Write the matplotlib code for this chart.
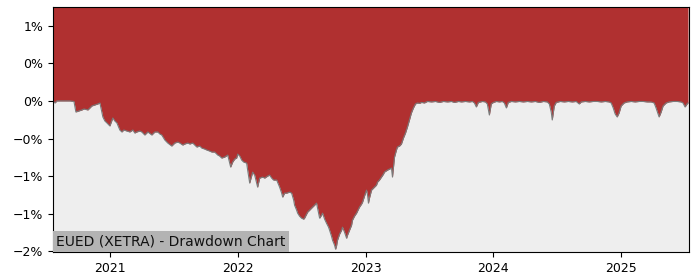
import matplotlib
matplotlib.use("Agg")
import matplotlib.pyplot as plt

# decimal years
years = [
    2020.555, 2020.570, 2020.586, 2020.641, 2020.688, 2020.719, 2020.734, 2020.758, 2020.781, 2020.797,
    2020.828, 2020.844, 2020.859, 2020.883, 2020.906, 2020.922, 2020.930, 2020.945, 2020.961, 2020.977,
    2021.000, 2021.023, 2021.039, 2021.055, 2021.078, 2021.094, 2021.109, 2021.133, 2021.156, 2021.180,
    2021.195, 2021.211, 2021.234, 2021.250, 2021.273, 2021.297, 2021.328, 2021.352, 2021.375, 2021.391,
    2021.406, 2021.430, 2021.453, 2021.484, 2021.508, 2021.531, 2021.547, 2021.570, 2021.586, 2021.609,
    2021.625, 2021.648, 2021.680, 2021.703, 2021.719, 2021.742, 2021.758, 2021.781, 2021.797, 2021.820,
    2021.844, 2021.859, 2021.875, 2021.898, 2021.922, 2021.945, 2021.961, 2021.977, 2021.992, 2022.000,
    2022.016, 2022.031, 2022.047, 2022.070, 2022.078, 2022.094, 2022.109, 2022.117, 2022.133, 2022.148,
    2022.156, 2022.172, 2022.195, 2022.211, 2022.234, 2022.250, 2022.266, 2022.281, 2022.305, 2022.328,
    2022.344, 2022.352, 2022.367, 2022.383, 2022.406, 2022.422, 2022.438, 2022.445, 2022.461, 2022.469,
    2022.484, 2022.500, 2022.516, 2022.523, 2022.539, 2022.547, 2022.563, 2022.578, 2022.594, 2022.602,
    2022.617, 2022.625, 2022.641, 2022.656, 2022.664, 2022.680, 2022.695, 2022.711, 2022.719, 2022.734,
    2022.742, 2022.758, 2022.766, 2022.773, 2022.781, 2022.797, 2022.813, 2022.820, 2022.836, 2022.852,
    2022.859, 2022.875, 2022.891, 2022.898, 2022.914, 2022.930, 2022.945, 2022.953, 2022.969, 2022.977,
    2022.992, 2023.008, 2023.016, 2023.023, 2023.031, 2023.047, 2023.070, 2023.086, 2023.094, 2023.109,
    2023.125, 2023.141, 2023.148, 2023.172, 2023.188, 2023.203, 2023.211, 2023.227, 2023.242, 2023.250,
    2023.266, 2023.281, 2023.297, 2023.313, 2023.328, 2023.344, 2023.359, 2023.375, 2023.391, 2023.406,
    2023.422, 2023.438, 2023.461, 2023.484, 2023.516, 2023.547, 2023.578, 2023.609, 2023.641, 2023.672,
    2023.695, 2023.727, 2023.750, 2023.781, 2023.813, 2023.836, 2023.852, 2023.867, 2023.883, 2023.914,
    2023.938, 2023.953, 2023.969, 2023.984, 2024.000, 2024.023, 2024.047, 2024.070, 2024.086, 2024.102,
    2024.117, 2024.141, 2024.172, 2024.203, 2024.234, 2024.266, 2024.297, 2024.328, 2024.359, 2024.391,
    2024.422, 2024.438, 2024.453, 2024.461, 2024.477, 2024.492, 2024.523, 2024.555, 2024.586, 2024.617,
    2024.648, 2024.672, 2024.688, 2024.719, 2024.750, 2024.781, 2024.813, 2024.844, 2024.875, 2024.906,
    2024.922, 2024.938, 2024.953, 2024.969, 2024.984, 2025.000, 2025.023, 2025.047, 2025.078, 2025.109,
    2025.141, 2025.172, 2025.203, 2025.234, 2025.258, 2025.273, 2025.289, 2025.297, 2025.313, 2025.328,
    2025.352, 2025.375, 2025.406, 2025.438, 2025.469, 2025.484, 2025.500, 2025.516, 2025.523,
]

# drawdown in percent
drawdown_pct = [
    0.000, -0.027, 0.000, 0.000, 0.000, -0.007, -0.147, -0.133, -0.120, -0.107,
    -0.120, -0.093, -0.067, -0.053, -0.040, -0.027, -0.093, -0.213, -0.267, -0.293,
    -0.333, -0.227, -0.267, -0.293, -0.387, -0.413, -0.387, -0.400, -0.413, -0.387,
    -0.427, -0.413, -0.400, -0.413, -0.453, -0.413, -0.453, -0.413, -0.413, -0.440,
    -0.453, -0.520, -0.560, -0.600, -0.560, -0.547, -0.560, -0.587, -0.573, -0.560,
    -0.573, -0.560, -0.613, -0.600, -0.627, -0.640, -0.653, -0.667, -0.680, -0.680,
    -0.720, -0.733, -0.760, -0.747, -0.720, -0.880, -0.813, -0.773, -0.760, -0.707,
    -0.733, -0.787, -0.813, -0.827, -0.920, -1.093, -1.000, -0.947, -0.987, -1.093,
    -1.147, -1.027, -1.013, -1.027, -1.000, -0.987, -1.027, -1.053, -1.053, -1.147,
    -1.227, -1.280, -1.227, -1.227, -1.213, -1.227, -1.320, -1.387, -1.453, -1.493,
    -1.533, -1.560, -1.573, -1.560, -1.507, -1.480, -1.453, -1.427, -1.400, -1.387,
    -1.360, -1.427, -1.560, -1.520, -1.493, -1.573, -1.627, -1.680, -1.720, -1.800,
    -1.853, -1.920, -1.973, -1.933, -1.853, -1.773, -1.720, -1.680, -1.747, -1.827,
    -1.787, -1.720, -1.653, -1.587, -1.533, -1.493, -1.440, -1.413, -1.373, -1.347,
    -1.267, -1.187, -1.253, -1.360, -1.293, -1.187, -1.147, -1.120, -1.080, -1.053,
    -1.013, -0.973, -0.947, -0.920, -0.907, -0.893, -1.013, -0.747, -0.653, -0.613,
    -0.600, -0.573, -0.493, -0.427, -0.347, -0.253, -0.160, -0.093, -0.040, -0.027,
    -0.033, -0.020, -0.027, -0.007, -0.013, -0.007, -0.020, -0.007, -0.013, -0.007,
    -0.020, -0.007, -0.013, -0.007, -0.013, -0.007, -0.027, -0.080, -0.020, -0.007,
    -0.013, -0.040, -0.187, -0.040, -0.020, -0.007, -0.013, -0.007, -0.027, -0.093,
    -0.020, -0.007, -0.013, -0.007, -0.013, -0.007, -0.013, -0.007, -0.020, -0.007,
    -0.013, -0.040, -0.147, -0.253, -0.067, -0.020, -0.007, -0.013, -0.007, -0.013,
    -0.007, -0.040, -0.013, -0.007, -0.013, -0.007, -0.007, -0.013, -0.007, -0.013,
    -0.027, -0.093, -0.173, -0.213, -0.160, -0.067, -0.027, -0.013, -0.007, -0.013,
    -0.007, -0.007, -0.013, -0.013, -0.027, -0.093, -0.173, -0.213, -0.147, -0.067,
    -0.027, -0.013, -0.007, -0.007, -0.013, -0.027, -0.080, -0.040, -0.027,
]

ytick_values = [-0.02, -0.015, -0.01, -0.005, 0.0, 0.005, 0.01]
ytick_labels = ["\u22122%", "\u22121%", "\u22121%", "\u22120%", "0%", "0%", "1%"]
xtick_values = [2021, 2022, 2023, 2024, 2025]
xtick_labels = ["2021", "2022", "2023", "2024", "2025"]
title = "EUED (XETRA) - Drawdown Chart"

dd = [v / 100.0 for v in drawdown_pct]
y_top = 0.0125
y_bottom = -0.0201

fig = plt.figure(figsize=(7, 2.8), dpi=100)
ax = fig.add_axes([0.0757, 0.1, 0.9086, 0.875])
ax.set_facecolor("#eeeeee")
ax.fill_between(years, dd, y_top, color="#b03030", linewidth=0)
ax.plot(years, dd, color="#7a7a7a", linewidth=0.8)

ax.set_ylim(y_bottom, y_top)
ax.set_xlim(2020.555, 2025.531)
ax.set_yticks(ytick_values)
ax.set_yticklabels(ytick_labels)
ax.set_xticks(xtick_values)
ax.set_xticklabels(xtick_labels)
ax.tick_params(labelsize=9)

ax.annotate(title, xy=(0, 0), xycoords="axes fraction", xytext=(2.5, 2.5),
            textcoords="offset points", ha="left", va="bottom",
            fontsize=10, color="#111111",
            bbox=dict(facecolor="#b3b3b3", edgecolor="none", pad=2.5))

fig.savefig("out.png", dpi=100)
